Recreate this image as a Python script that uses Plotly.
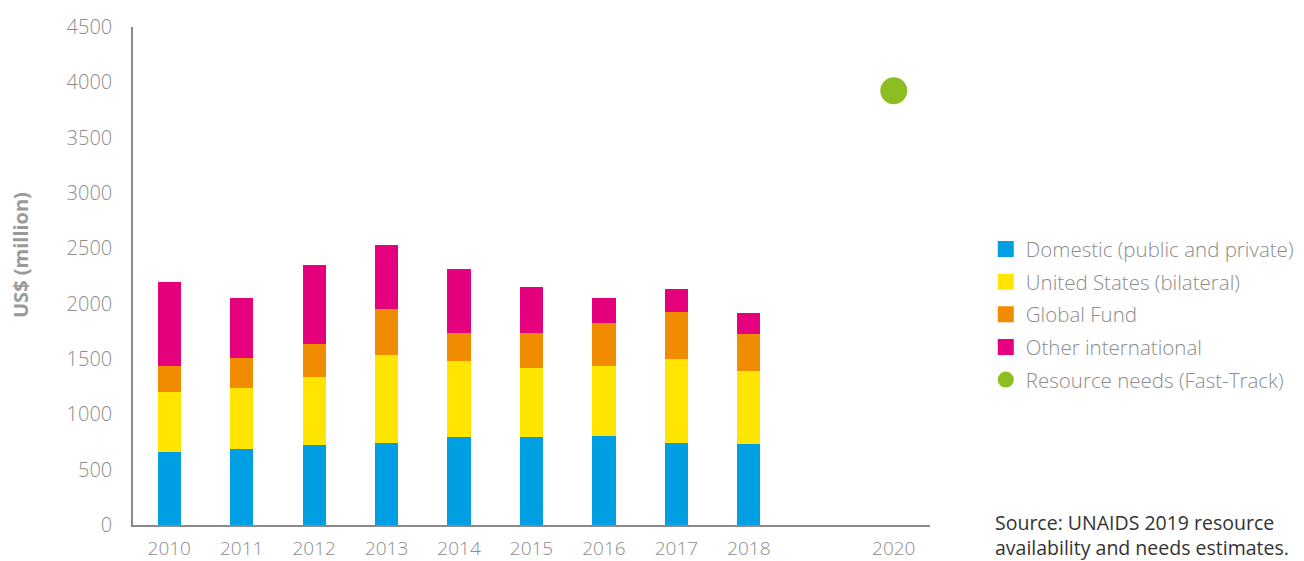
import plotly.graph_objects as go

years = [2010, 2011, 2012, 2013, 2014, 2015, 2016, 2017, 2018]
domestic = [657, 690, 726, 744, 792, 795, 804, 744, 732]
us_bilateral = [545, 545, 614, 792, 690, 624, 630, 753, 662]
global_fund = [235, 277, 293, 416, 250, 319, 391, 428, 332]
other_intl = [762, 542, 714, 578, 584, 415, 226, 210, 190]
needs_year = [2020]
needs_value = [3924]
tick_years = [2010, 2011, 2012, 2013, 2014, 2015, 2016, 2017, 2018, 2020]
y_ticks = [0, 500, 1000, 1500, 2000, 2500, 3000, 3500, 4000, 4500]

series = [
    ("Domestic (public and private)", domestic, "#009FE3"),
    ("United States (bilateral)", us_bilateral, "#FFE500"),
    ("Global Fund", global_fund, "#F18B00"),
    ("Other international", other_intl, "#E5007E"),
]
green = "#8CBE23"
grey = "#8C8C8C"
font_family = "'Open Sans', sans-serif"

# page has an 8px body margin; figure sized to fill the rest of the window
W, H = 1296, 553
L, T, B, R = 125, 19, 36, 374
PW, PH = W - L - R, H - T - B

fig = go.Figure()
for i, (name, vals, col) in enumerate(series):
    fig.add_trace(go.Bar(x=years, y=vals, name=name, marker=dict(color=col, line=dict(width=0)),
                         width=0.32, showlegend=False))
# legend entries
for i, (name, vals, col) in enumerate(series):
    fig.add_trace(go.Scatter(x=[None], y=[None], mode="markers", name=name, legendgroup=f"g{i}",
                             marker=dict(symbol="square", size=16, color=col)))
fig.add_trace(go.Scatter(x=needs_year, y=needs_value, mode="markers", name="Resource needs (Fast-Track)",
                         legendgroup="g5", marker=dict(symbol="circle", size=27, color=green)))

fig.update_layout(
    barmode="stack",
    width=W, height=H,
    margin=dict(l=L, r=R, t=T, b=B, autoexpand=False),
    paper_bgcolor="white", plot_bgcolor="white",
    font=dict(family=font_family, color=grey, size=20, weight=300),
    legend=dict(x=1.07, y=0.594, xanchor="left", yanchor="top", traceorder="grouped",
                tracegroupgap=3, font=dict(size=20.5, color=grey, weight=300), itemsizing="trace",
                bgcolor="rgba(0,0,0,0)"),
    xaxis=dict(range=[2009.5, 2020.5], tickvals=tick_years, ticktext=[str(t) for t in tick_years],
               showgrid=False, zeroline=False, showline=True, linecolor="#8A8A8A", linewidth=1.5,
               ticks="", ticklabelstandoff=5, automargin=False,
               tickfont=dict(size=19, color=grey, weight=300)),
    yaxis=dict(range=[0, 4500], tickvals=y_ticks, showgrid=False, zeroline=False, showline=True,
               linecolor="#8A8A8A", linewidth=1.5, ticks="", ticklabelstandoff=15, automargin=False,
               tickfont=dict(size=20, color=grey, weight=300)),
    annotations=[
        dict(text="<b>US$ (million)</b>", textangle=-90, xref="paper", yref="paper",
             x=(20 - 8 - L) / PW, y=(525 - 255) / PH, xanchor="center", yanchor="middle",
             showarrow=False, font=dict(size=20, color="#9A9A9A", weight=700)),
        dict(text="Source: UNAIDS 2019 resource<br>availability and needs estimates.",
             xref="paper", yref="paper", x=(993 - 8 - L) / PW, y=(525 - 507) / PH,
             xanchor="left", yanchor="top", align="left", showarrow=False,
             font=dict(size=19.5, color="#333333", weight=400)),
    ],
)

fig.write_html("out.html")
